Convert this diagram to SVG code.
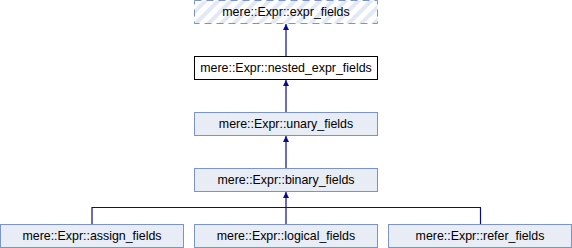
<svg xmlns="http://www.w3.org/2000/svg" width="572" height="248" viewBox="0 0 572 248">
  <style>
    .box { fill: #e8ecf5; stroke: #7b93c8; stroke-width: 1; }
    .plain { fill: #ffffff; stroke: #000000; stroke-width: 1; }
    .virt { fill: url(#hatch); stroke: #7b93c8; stroke-width: 1; stroke-dasharray: 7 5; }
    .lbl { font-family: "Liberation Sans", Arial, sans-serif; font-size: 12.4px; fill: #000000; text-anchor: middle; }
    .edge { fill: none; stroke: #0a0a8c; stroke-width: 1.2; marker-end: url(#arrow); }
    .bus { fill: none; stroke: #0a0a8c; stroke-width: 1.2; }
  </style>
  <defs>
    <pattern id="hatch" patternUnits="userSpaceOnUse" width="9" height="9" patternTransform="rotate(45)">
      <rect width="9" height="9" fill="#ffffff"/>
      <rect width="4" height="9" fill="#e3e9f4"/>
    </pattern>
    <marker id="arrow" viewBox="0 0 10 10" refX="10" refY="5" markerWidth="8" markerHeight="6" markerUnits="userSpaceOnUse" orient="auto">
      <path d="M0,0 L10,5 L0,10 Z" fill="#0a0a8c"/>
    </marker>
  </defs>

  <g id="connectors">
    <path class="edge" d="M286,56 V24"/>
    <path class="edge" d="M286,112 V80"/>
    <path class="edge" d="M286,168 V136"/>
    <path class="bus" d="M92,224 V207.5 H480.5 V224"/>
    <path class="edge" d="M286,224 V192"/>
  </g>

  <g id="expr_fields">
    <rect class="virt" x="194.5" y="0.5" width="183" height="23"/>
    <text class="lbl" x="286" y="16">mere::Expr::expr_fields</text>
  </g>

  <g id="nested_expr_fields">
    <rect class="plain" x="194.5" y="56.5" width="183" height="23"/>
    <text class="lbl" x="286" y="72">mere::Expr::nested_expr_fields</text>
  </g>

  <g id="unary_fields">
    <rect class="box" x="194.5" y="112.5" width="183" height="23"/>
    <text class="lbl" x="286" y="128">mere::Expr::unary_fields</text>
  </g>

  <g id="binary_fields">
    <rect class="box" x="194.5" y="168.5" width="183" height="23"/>
    <text class="lbl" x="286" y="184">mere::Expr::binary_fields</text>
  </g>

  <g id="assign_fields">
    <rect class="box" x="0.5" y="224.5" width="183" height="23"/>
    <text class="lbl" x="92" y="240">mere::Expr::assign_fields</text>
  </g>

  <g id="logical_fields">
    <rect class="box" x="194.5" y="224.5" width="183" height="23"/>
    <text class="lbl" x="286" y="240">mere::Expr::logical_fields</text>
  </g>

  <g id="refer_fields">
    <rect class="box" x="388.5" y="224.5" width="183" height="23"/>
    <text class="lbl" x="480" y="240">mere::Expr::refer_fields</text>
  </g>
</svg>
